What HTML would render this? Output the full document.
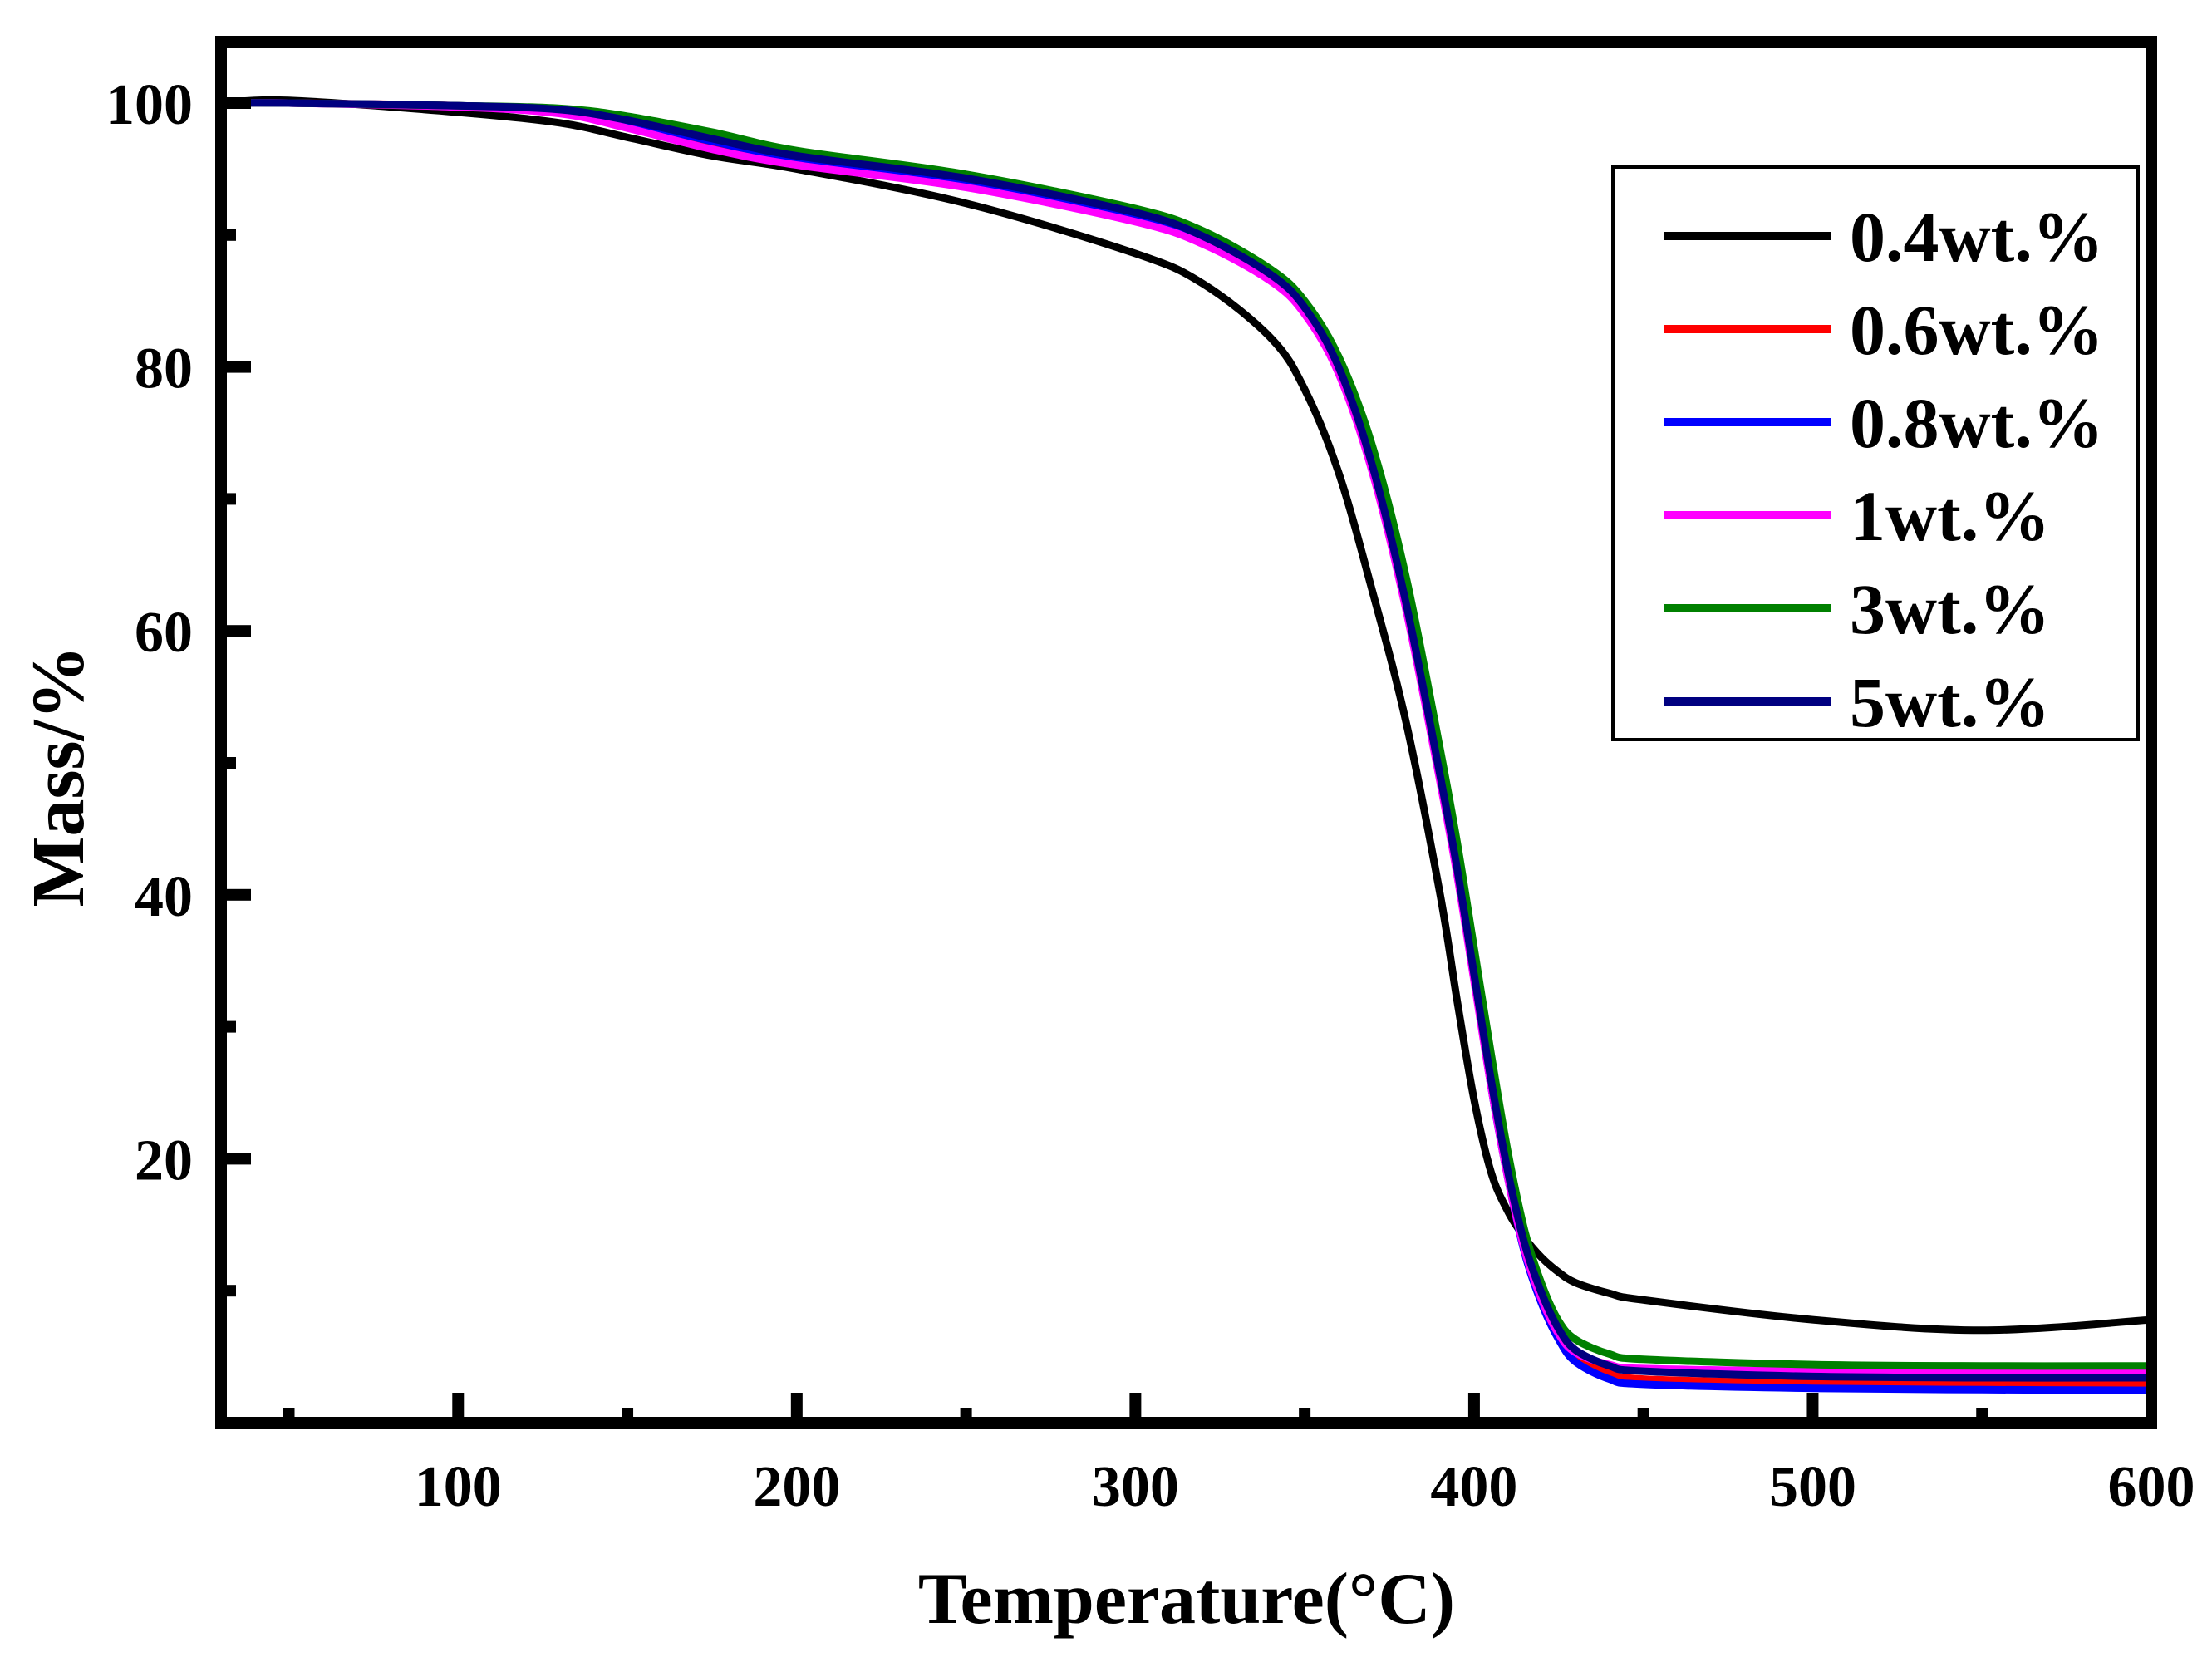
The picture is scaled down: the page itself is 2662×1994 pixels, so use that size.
<!DOCTYPE html>
<html><head><meta charset="utf-8"><style>
html,body{margin:0;padding:0;background:#fff;}
svg{display:block;}
text{font-family:"Liberation Serif",serif;font-weight:bold;fill:#000;}
</style></head><body>
<svg id="chart" width="2662" height="1994" viewBox="0 0 2662 1994" xmlns="http://www.w3.org/2000/svg"></svg>
<script>
const temps=[30,50,100,130,150,175,200,250,300,320,340,350,360,370,380,390,395,400,405,410,415,420,425,430,440,450,500,550,600];
const s04=[100,100.2,99.3,98.5,97.4,96,95,92.4,88.6,86.3,82.2,78.3,72,63,53,40,32,24.5,19,16,14,12.5,11.4,10.6,9.8,9.3,7.8,7.0,7.8];
const s06=[100,100,99.8,99.4,98.5,97,95.6,93.9,91.3,89.5,86.7,84.2,79.7,72.5,62,49,42,34,26,19,13,9.3,6.6,5.0,3.8,3.3,3.0,2.9,2.9];
const s08=[100,100,99.8,99.5,98.6,97.1,95.8,94,91.4,89.6,86.8,84.3,79.8,72.5,62,49,42,34,25.5,18.5,12.8,9,6.3,4.6,3.3,2.9,2.6,2.5,2.45];
const s1=[100,100,99.7,99.2,98.1,96.5,95.3,93.6,91,89.3,86.5,84,79.5,72,61.5,48.5,41.5,33.5,25.5,18.5,13,9.3,6.7,5.3,4.4,4.1,3.9,3.8,3.8];
const s3=[100,100,99.8,99.6,99,97.8,96.4,94.6,92,90.3,87.4,85,80.8,74,64,51,44,36,28,20.5,14.5,10.5,7.7,6.3,5.2,4.8,4.4,4.3,4.3];
const s5=[100,100,99.8,99.5,98.7,97.3,96,94.3,91.7,89.9,87,84.5,80,72.5,62,49,42,34,26,19,13.5,9.8,7.1,5.5,4.3,3.9,3.5,3.4,3.4];
const seriesNames=["0.4wt.%","0.6wt.%","0.8wt.%","1wt.%","3wt.%","5wt.%"];
const seriesColors=["#000000","#ff0000","#0000ff","#ff00ff","#008000","#000080"];
const xMajor=[100,200,300,400,500,600];
const xMinor=[50,150,250,350,450,550];
const yMajor=[20,40,60,80,100];
const yMinor=[10,30,50,70,90];

const NS="http://www.w3.org/2000/svg";
const svg=document.getElementById('chart');
const X0=266,X1=2589,Y0=1712,PXU=15.88;
const xs=t=>X0+(t-30)*(X1-X0)/570;
const ys=v=>Y0-v*PXU;
function mk(tag,attrs,parent){const e=document.createElementNS(NS,tag);for(const k in attrs)e.setAttribute(k,attrs[k]);(parent||svg).appendChild(e);return e;}

const clip=mk('clipPath',{id:'pc'});mk('rect',{x:X0,y:50,width:X1-X0,height:Y0-50},clip);

function pathFor(vals){
  const p=temps.map((t,i)=>[xs(t),ys(vals[i])]);
  let d='M'+p[0][0].toFixed(1)+','+p[0][1].toFixed(1);
  for(let i=0;i<p.length-1;i++){
    const a=p[Math.max(0,i-1)],b=p[i],c=p[i+1],e=p[Math.min(p.length-1,i+2)];
    const c1=[b[0]+(c[0]-a[0])/6,b[1]+(c[1]-a[1])/6],c2=[c[0]-(e[0]-b[0])/6,c[1]-(e[1]-b[1])/6];
    d+='C'+c1[0].toFixed(1)+','+c1[1].toFixed(1)+' '+c2[0].toFixed(1)+','+c2[1].toFixed(1)+' '+c[0].toFixed(1)+','+c[1].toFixed(1);
  }
  return d;
}
const allSeries=[s04,s06,s08,s1,s3,s5];
const keys=['0-4','0-6','0-8','1','3','5'];
const g=mk('g',{'clip-path':'url(#pc)'});
allSeries.forEach((s,i)=>{
  const el=mk('path',{d:pathFor(s),fill:'none',stroke:seriesColors[i],'stroke-width':9,'stroke-linejoin':'round'},g);
  
  
});

const frame=mk('g',{});


mk('rect',{x:X0-7,y:43,width:14,height:Y0-43+7,fill:'#000'},frame);
mk('rect',{x:X0-7,y:43,width:X1-X0+14,height:15,fill:'#000'},frame);
mk('rect',{x:X1-7,y:43,width:14,height:Y0-43+7,fill:'#000'},frame);
mk('rect',{x:X0-7,y:Y0-7,width:X1-X0+14,height:15,fill:'#000'},frame);

xMajor.forEach(t=>{
  const r=mk('rect',{x:xs(t)-7,y:Y0-36,width:14,height:30,fill:'#000'});
  
  
  const tx=mk('text',{x:xs(t),y:1812,'font-size':70,'text-anchor':'middle'});
  tx.textContent=t;
  
  
});
xMinor.forEach(t=>{
  const r=mk('rect',{x:xs(t)-7,y:Y0-18,width:14,height:12,fill:'#000'});
  
  
});
yMajor.forEach(v=>{
  const r=mk('rect',{x:X0+6,y:ys(v)-7,width:30,height:14,fill:'#000'});
  
  
  const tx=mk('text',{x:232,y:ys(v)+25,'font-size':70,'text-anchor':'end'});
  tx.textContent=v;
  
  
});
yMinor.forEach(v=>{
  const r=mk('rect',{x:X0+6,y:ys(v)-7,width:12,height:14,fill:'#000'});
  
  
});

const xt=mk('text',{x:1428,y:1953,'font-size':88,'text-anchor':'middle'});
xt.textContent='Temperature(°C)';


const yt=mk('text',{x:0,y:0,'font-size':90,'text-anchor':'middle',transform:'translate(100,934) rotate(-90)'});
yt.textContent='Mass/%';



const lg=mk('g',{});


mk('rect',{x:1941,y:201,width:632,height:689,fill:'#fff',stroke:'#000','stroke-width':4},lg);
const rowsY=[284,396,508,620,732,844];
seriesNames.forEach((n,i)=>{
  const e=mk('g',{},lg);
  
  
  mk('rect',{x:2003,y:rowsY[i]-5,width:200,height:10,fill:seriesColors[i]},e);
  const t=mk('text',{x:2226,y:rowsY[i]+30,'font-size':86},e);
  t.textContent=n;
});
</script>
</body></html>
